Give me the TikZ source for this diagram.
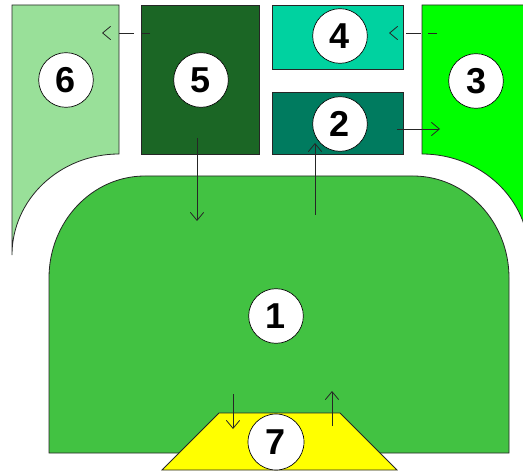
\documentclass[tikz,border=0pt]{standalone}
\usepackage{fontspec}
\setmainfont{Liberation Sans}
\usetikzlibrary{arrows.meta}
\definecolor{cone}{RGB}{66,194,66}
\definecolor{ctwo}{RGB}{0,123,95}
\definecolor{cthree}{RGB}{0,255,0}
\definecolor{cfour}{RGB}{0,210,160}
\definecolor{cfive}{RGB}{27,102,37}
\definecolor{csix}{RGB}{153,224,153}
\definecolor{cseven}{RGB}{255,255,0}
\tikzset{
  area/.style={draw=black!85, line width=0.6pt},
  num/.style={circle, draw=black, line width=0.5pt, fill=white, minimum size=41pt, inner sep=0pt, font=\fontsize{27}{27}\selectfont\bfseries},
  flow/.style={draw=black!85, line width=0.6pt, -{Straight Barb[length=6pt,width=10pt]}},
  dflow/.style={flow, dash pattern=on 6.5pt off 5.5pt on 11pt off 40pt}
}
\begin{document}
\begin{tikzpicture}[x=0.75pt,y=-0.75pt]
\useasboundingbox (0,0) rectangle (523,473);
\clip (0,0) rectangle (523,473);
% areas
\path[area, fill=csix] (12,5) -- (119,5) -- (119,154) arc[start angle=270, end angle=180, x radius=107, y radius=101] -- cycle;
\path[area, fill=cfive] (141,5) rectangle (259,154);
\path[area, fill=cfour] (272,5) rectangle (403,69);
\path[area, fill=ctwo] (272,92) rectangle (403,154);
\path[area, fill=cthree] (422,5) -- (530,5) -- (529,255) arc[start angle=0, end angle=-90, x radius=107, y radius=101] -- cycle;
\path[area, fill=cone] (49,453) -- (49,278) arc[start angle=180, end angle=270, x radius=96, y radius=102] -- (413,176) arc[start angle=270, end angle=360, x radius=96, y radius=102] -- (509,453) -- cycle;
\path[area, fill=cseven] (219,413) -- (340,413) -- (397,470) -- (162,470) -- cycle;
% labels
\node[num] (n6) at (66,80) {6};
\node[num] (n5) at (201,80) {5};
\node[num] (n4) at (340,36) {4};
\node[num] (n3) at (476,81) {3};
\node[num] (n2) at (340,124) {2};
\node[num] (n1) at (276,316) {1};
\node[num, minimum size=42pt] (n7) at (276,442) {7};
% arrow end points
\coordinate (a51s) at (197,138);
\coordinate (a51e) at (197,221);
\coordinate (a12s) at (315,215);
\coordinate (a12e) at (315,143);
\coordinate (a23s) at (397,129);
\coordinate (a23e) at (440,129);
\coordinate (a17s) at (233,394);
\coordinate (a17e) at (233,429);
\coordinate (a71s) at (332,426);
\coordinate (a71e) at (332,391);
\coordinate (a56s) at (150,33);
\coordinate (a56e) at (102,33);
\coordinate (a34s) at (437,33);
\coordinate (a34e) at (389,33);
% arrows
\draw[flow] (a51s) -- (a51e);
\draw[flow] (a12s) -- (a12e);
\draw[flow] (a23s) -- (a23e);
\draw[flow] (a17s) -- (a17e);
\draw[flow] (a71s) -- (a71e);
\draw[dflow] (a56s) -- (a56e);
\draw[dflow] (a34s) -- (a34e);
\end{tikzpicture}
\end{document}
